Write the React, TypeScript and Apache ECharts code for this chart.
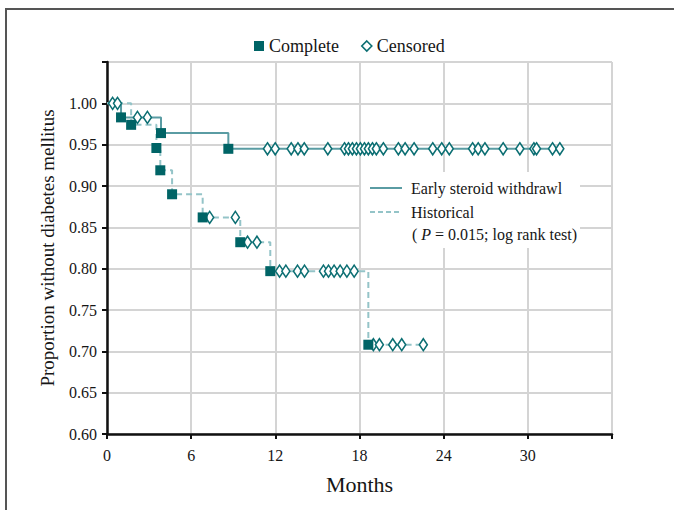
import React, { useEffect, useRef } from "react";
import * as echarts from "echarts";

// Early steroid withdrawal group
const earlyEventTimes = [1.0, 3.85, 8.65];
const earlySurvival = [0.983, 0.964, 0.945];
const earlyCensored = [
  0.4, 2.17, 2.88, 11.44, 11.99, 13.13, 13.61, 14.06, 15.74, 16.93, 17.21, 17.49,
  17.78, 18.06, 18.35, 18.63, 18.92, 19.2, 19.7, 20.77, 21.25, 21.89, 23.22, 23.86,
  24.4, 26.06, 26.46, 26.94, 28.24, 29.43, 30.43, 30.62, 31.76, 32.28,
];

// Historical group
const histEventTimes = [1.72, 3.52, 3.8, 4.64, 6.82, 9.5, 11.64, 18.63];
const histSurvival = [0.974, 0.946, 0.919, 0.89, 0.862, 0.832, 0.797, 0.708];
const histCensored = [
  0.75, 7.32, 9.15, 10.02, 10.69, 12.3, 12.75, 13.58, 14.08, 15.43, 15.79, 16.19,
  16.62, 17.1, 17.62, 18.99, 19.42, 20.37, 21.01, 22.55,
];

const xTicks = [0, 6, 12, 18, 24, 30];
const yTickLabels = ["0.60", "0.65", "0.70", "0.75", "0.80", "0.85", "0.90", "0.95", "1.00"];
const groupNames = ["Early steroid withdrawl", "Historical"];
const pValueText = "( {i|P} = 0.015; log rank test)";

const FONT = "'Liberation Serif', 'DejaVu Serif', serif";
const TXT = "#161616";
const SQ = "#006466";
const DIA = "#0c6f73";
const SOLID = "#5a9ca3";
const DASH = "#94c4c8";

function survAt(times: number[], surv: number[], t: number) {
  let s = 1;
  for (let i = 0; i < times.length; i++) if (times[i] <= t) s = surv[i];
  return s;
}

function stepLine(times: number[], surv: number[], cens: number[]) {
  const pts: number[][] = [[0, 1]];
  times.forEach((t, i) => pts.push([t, surv[i]]));
  const last = Math.max(...cens, ...times);
  pts.push([last, survAt(times, surv, last)]);
  return pts;
}

export default function App() {
  const ref = useRef<HTMLDivElement>(null);
  useEffect(() => {
    if (!ref.current) return;
    const chart = echarts.init(ref.current, null, { renderer: "svg" });
    const eventPts = (times: number[], surv: number[]) => times.map((t, i) => [t, surv[i]]);
    const censPts = (times: number[], surv: number[], cens: number[]) =>
      cens.map((c) => [c, survAt(times, surv, c)]);

    const squareStyle = { color: SQ, opacity: 1 };
    const diaStyle = { color: "#ffffff", borderColor: DIA, borderWidth: 1.6, opacity: 1 };

    chart.setOption({
      animation: false,
      backgroundColor: "#ffffff",
      textStyle: { fontFamily: FONT },
      grid: { left: 107, right: 62, top: 62, bottom: 76 },
      xAxis: {
        type: "value",
        min: 0,
        max: 36,
        interval: 6,
        name: "Months",
        nameLocation: "middle",
        nameGap: 39,
        nameTextStyle: { fontSize: 22, color: TXT, fontFamily: FONT },
        axisLine: { show: true, onZero: false, lineStyle: { color: "#111", width: 2.5 } },
        axisTick: { show: true, length: 5, lineStyle: { color: "#111", width: 2 } },
        axisLabel: {
          fontSize: 16,
          color: TXT,
          fontFamily: FONT,
          margin: 13,
          formatter: (v: number) => (xTicks.includes(v) ? String(v) : ""),
        },
        splitLine: { show: true, lineStyle: { color: "#d4d4d4", width: 2 } },
      },
      yAxis: {
        type: "value",
        min: 0.6,
        max: 1.05,
        interval: 0.05,
        name: "Proportion without diabetes mellitus",
        nameLocation: "middle",
        nameGap: 50,
        nameTextStyle: { fontSize: 19, color: TXT, fontFamily: FONT },
        axisLine: { show: true, onZero: false, lineStyle: { color: "#111", width: 2.5 } },
        axisTick: { show: true, length: 5, lineStyle: { color: "#111", width: 2 } },
        axisLabel: {
          fontSize: 16,
          color: TXT,
          fontFamily: FONT,
          margin: 10,
          formatter: (v: number) => {
            const s = v.toFixed(2);
            return yTickLabels.includes(s) ? s : "";
          },
        },
        splitLine: { show: true, lineStyle: { color: "#d4d4d4", width: 2 } },
      },
      legend: {
        left: 249,
        top: 32,
        itemWidth: 10,
        itemHeight: 10,
        itemGap: 22,
        textStyle: { fontSize: 18, color: TXT, fontFamily: FONT },
        data: [
          { name: "Complete", icon: "rect", itemStyle: squareStyle },
          { name: "Censored", icon: "diamond", itemStyle: diaStyle },
        ],
      },
      graphic: [
        {
          type: "rect",
          z: 3,
          shape: { x: 361, y: 172, width: 219, height: 76 },
          style: { fill: "#ffffff" },
        },
        {
          type: "line",
          z: 10,
          shape: { x1: 370, y1: 188, x2: 402, y2: 188 },
          style: { stroke: SOLID, lineWidth: 2 },
        },
        {
          type: "line",
          z: 10,
          shape: { x1: 370, y1: 212, x2: 402, y2: 212 },
          style: { stroke: DASH, lineWidth: 2, lineDash: [5, 3] },
        },
        {
          type: "text",
          z: 10,
          x: 411,
          y: 188,
          style: {
            text: groupNames[0],
            fontSize: 16,
            fontFamily: FONT,
            fill: TXT,
            verticalAlign: "middle",
          },
        },
        {
          type: "text",
          z: 10,
          x: 411,
          y: 212,
          style: {
            text: groupNames[1],
            fontSize: 16,
            fontFamily: FONT,
            fill: TXT,
            verticalAlign: "middle",
          },
        },
        {
          type: "text",
          z: 10,
          x: 412,
          y: 234,
          style: {
            text: pValueText,
            fontSize: 16,
            fontFamily: FONT,
            fill: TXT,
            verticalAlign: "middle",
            rich: { i: { fontStyle: "italic", fontSize: 16, fontFamily: FONT, fill: TXT } },
          },
        },
        {
          type: "polyline",
          z: 10,
          shape: { points: [[6, 510], [6, 9], [674, 9]] },
          style: { stroke: "#555", lineWidth: 2, fill: "none" },
        },
      ],
      series: [
        {
          name: groupNames[0],
          type: "line",
          step: "end",
          symbol: "none",
          data: stepLine(earlyEventTimes, earlySurvival, earlyCensored),
          lineStyle: { color: SOLID, width: 2 },
          itemStyle: { color: SOLID },
          z: 2,
        },
        {
          name: groupNames[1],
          type: "line",
          step: "end",
          symbol: "none",
          data: stepLine(histEventTimes, histSurvival, histCensored),
          lineStyle: { color: DASH, width: 2, type: [6, 4] },
          itemStyle: { color: DASH },
          z: 2,
        },
        {
          name: "Censored",
          type: "scatter",
          symbol: "diamond",
          symbolSize: [8, 12],
          data: censPts(earlyEventTimes, earlySurvival, earlyCensored),
          itemStyle: diaStyle,
          z: 4,
        },
        {
          name: "Censored",
          type: "scatter",
          symbol: "diamond",
          symbolSize: [8, 12],
          data: censPts(histEventTimes, histSurvival, histCensored),
          itemStyle: diaStyle,
          z: 4,
        },
        {
          name: "Complete",
          type: "scatter",
          symbol: "rect",
          symbolSize: 10,
          data: eventPts(earlyEventTimes, earlySurvival),
          itemStyle: squareStyle,
          z: 5,
        },
        {
          name: "Complete",
          type: "scatter",
          symbol: "rect",
          symbolSize: 10,
          data: eventPts(histEventTimes, histSurvival),
          itemStyle: squareStyle,
          z: 5,
        },
      ],
    });
    return () => chart.dispose();
  }, []);
  return (
    <div
      ref={ref}
      style={{ position: "fixed", left: 0, top: 0, width: 674, height: 510, background: "#fff" }}
    />
  );
}
